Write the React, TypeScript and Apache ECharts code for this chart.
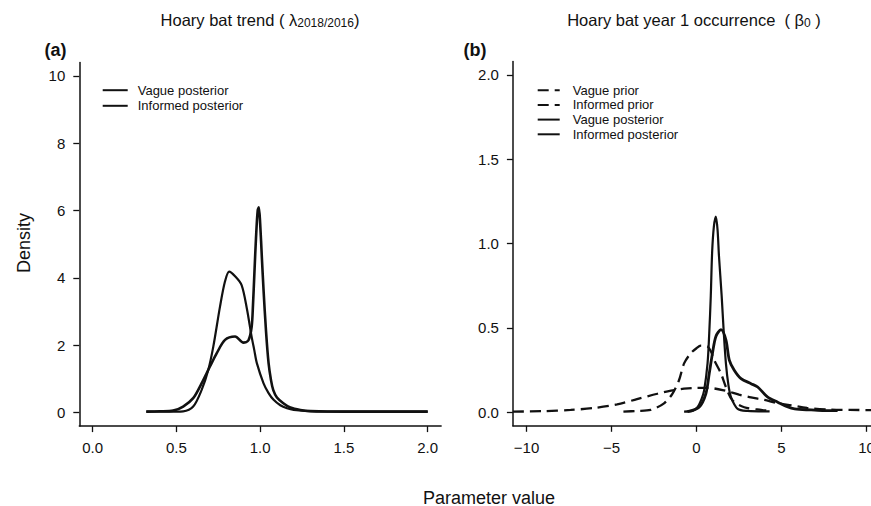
import React, { useEffect, useRef } from 'react';
import * as echarts from 'echarts';

// ---------- Panel (a): Hoary bat trend ----------
const aXTicks = [0, 0.5, 1.0, 1.5, 2.0];
const aYTicks = [0, 2, 4, 6, 8, 10];

const aVagueX = [0.32, 0.45, 0.54, 0.6, 0.65, 0.69, 0.72, 0.76, 0.79, 0.815, 0.85, 0.889, 0.92, 0.949, 0.965, 0.98, 1.02, 1.05, 1.08, 1.12, 1.16, 1.2, 1.3, 1.5, 2.0];
const aVagueY = [0.03, 0.03, 0.04, 0.18, 0.67, 1.27, 1.96, 3.15, 3.9, 4.19, 4.05, 3.79, 3.1, 2.25, 1.85, 1.47, 0.87, 0.58, 0.38, 0.22, 0.13, 0.08, 0.04, 0.03, 0.03];

const aInformedX = [0.32, 0.4, 0.48, 0.54, 0.6, 0.65, 0.7, 0.74, 0.79, 0.85, 0.9, 0.93, 0.949, 0.957, 0.965, 0.975, 0.985, 0.992, 1.0, 1.01, 1.02, 1.035, 1.05, 1.065, 1.078, 1.1, 1.138, 1.18, 1.24, 1.3, 1.5, 2.0];
const aInformedY = [0.03, 0.04, 0.06, 0.18, 0.43, 0.87, 1.37, 1.76, 2.16, 2.26, 2.08, 2.15, 2.55, 3.2, 4.1, 5.2, 6.0, 6.1, 5.6, 4.6, 3.64, 2.4, 1.47, 0.95, 0.67, 0.45, 0.28, 0.15, 0.08, 0.05, 0.03, 0.03];

// ---------- Panel (b): Hoary bat year 1 occurrence ----------
const bXTicks = [-10, -5, 0, 5, 10];
const bYTicks = [0, 0.5, 1.0, 1.5, 2.0];

const bVaguePriorX = [-10.8, -9, -7.4, -6, -4.67, -3.5, -2.3, -1.5, -0.73, 0.0, 0.65, 1.63, 2.5, 3.2, 4.0, 4.7, 5.47, 6.5, 7.9, 9, 10.8];
const bVaguePriorY = [0.004, 0.007, 0.014, 0.026, 0.047, 0.078, 0.11, 0.128, 0.14, 0.145, 0.145, 0.13, 0.105, 0.088, 0.073, 0.056, 0.043, 0.026, 0.016, 0.014, 0.013];

const bInformedPriorX = [-4.3, -3.5, -2.7, -1.91, -1.42, -1.03, -0.73, -0.34, 0.0, 0.25, 0.65, 0.85, 1.04, 1.44, 1.73, 2.12, 2.81, 3.8, 4.3];
const bInformedPriorY = [0.004, 0.008, 0.014, 0.053, 0.11, 0.19, 0.29, 0.35, 0.38, 0.395, 0.39, 0.36, 0.31, 0.23, 0.15, 0.07, 0.03, 0.014, 0.01];

const bVaguePostX = [-0.53, 0.15, 0.55, 0.75, 0.94, 1.14, 1.44, 1.73, 1.93, 2.22, 2.62, 3.21, 3.6, 4.19, 4.78, 5.3, 5.77, 6.75, 7.5, 8.3];
const bVaguePostY = [0.004, 0.03, 0.11, 0.23, 0.35, 0.45, 0.49, 0.43, 0.31, 0.25, 0.2, 0.17, 0.15, 0.09, 0.06, 0.035, 0.02, 0.014, 0.01, 0.01];

const bInformedPostX = [-0.73, -0.2, 0.06, 0.3, 0.45, 0.65, 0.75, 0.84, 0.92, 1.02, 1.14, 1.24, 1.32, 1.48, 1.6, 1.73, 1.88, 2.03, 2.42, 3.0, 4.3];
const bInformedPostY = [0.004, 0.01, 0.03, 0.08, 0.13, 0.29, 0.47, 0.69, 0.95, 1.1, 1.16, 1.08, 0.93, 0.69, 0.48, 0.29, 0.16, 0.09, 0.02, 0.008, 0.005];

const INK = '#111';
const FONT = '"Liberation Sans", Arial, Helvetica, sans-serif';

const zip = (xs: number[], ys: number[]) => xs.map((x, i) => [x, ys[i]]);
const minus = (v: number) => (v < 0 ? '\u2212' + Math.abs(v) : String(v));

function axisBase(extra: any) {
  return {
    type: 'value',
    axisLine: { show: true, onZero: false, lineStyle: { color: INK, width: 1.5 } },
    splitLine: { show: false },
    ...extra,
  };
}

function lineSeries(name: string, xs: number[], ys: number[], idx: number, width: number, dashed: boolean) {
  return {
    type: 'line',
    name,
    xAxisIndex: idx,
    yAxisIndex: idx,
    data: zip(xs, ys),
    symbol: 'none',
    showSymbol: false,
    smooth: 0.3,
    lineStyle: { color: INK, width, type: dashed ? [11, 6] : 'solid' },
    itemStyle: { color: INK },
    z: 3,
  };
}

export default function App() {
  const ref = useRef<HTMLDivElement>(null);
  useEffect(() => {
    if (!ref.current) return;
    const chart = echarts.init(ref.current, null, { renderer: 'svg' });
    const tickLabel = { color: INK, fontSize: 15, fontFamily: FONT };
    const legendText = { color: INK, fontSize: 13, fontFamily: FONT };
    const option: any = {
      animation: false,
      backgroundColor: '#fff',
      textStyle: { fontFamily: FONT },
      grid: [
        { left: 79.3, top: 62.5, width: 361.8, height: 363.6 },
        { left: 512.9, top: 61.5, width: 367.2, height: 364.3 },
      ],
      xAxis: [
        axisBase({
          gridIndex: 0, min: -0.08, max: 2.08,
          axisTick: { show: true, length: 6, customValues: aXTicks, lineStyle: { color: INK, width: 1.3 } },
          axisLabel: { ...tickLabel, customValues: aXTicks, margin: 14, formatter: (v: number) => v.toFixed(1) },
        }),
        axisBase({
          gridIndex: 1, min: -10.8, max: 10.8,
          axisTick: { show: true, length: 6, customValues: bXTicks, lineStyle: { color: INK, width: 1.3 } },
          axisLabel: { ...tickLabel, customValues: bXTicks, margin: 14, formatter: (v: number) => minus(v) },
        }),
      ],
      yAxis: [
        axisBase({
          gridIndex: 0, min: -0.4, max: 10.4,
          axisTick: { show: true, length: 6, customValues: aYTicks, lineStyle: { color: INK, width: 1.3 } },
          axisLabel: { ...tickLabel, customValues: aYTicks, margin: 14, formatter: (v: number) => String(v) },
        }),
        axisBase({
          gridIndex: 1, min: -0.08, max: 2.08,
          axisTick: { show: true, length: 6, customValues: bYTicks, lineStyle: { color: INK, width: 1.3 } },
          axisLabel: { ...tickLabel, customValues: bYTicks, margin: 14, formatter: (v: number) => v.toFixed(1) },
        }),
      ],
      legend: [
        {
          orient: 'vertical', left: 101.7, top: 83.7, padding: 0,
          itemWidth: 25, itemHeight: 14, itemGap: 2.6,
          data: ['a|Vague posterior', 'a|Informed posterior'],
          formatter: (n: string) => n.slice(2),
          itemStyle: { opacity: 0, borderWidth: 0 },
          textStyle: { ...legendText, padding: [0, 0, 0, 5] },
          selectedMode: false,
        },
        {
          orient: 'vertical', left: 536.7, top: 83.7, padding: 0,
          itemWidth: 22, itemHeight: 14, itemGap: 1.7,
          data: ['b|Vague prior', 'b|Informed prior', 'b|Vague posterior', 'b|Informed posterior'],
          formatter: (n: string) => n.slice(2),
          itemStyle: { opacity: 0, borderWidth: 0 },
          textStyle: { ...legendText, padding: [0, 0, 0, 8] },
          selectedMode: false,
        },
      ],
      series: [
        lineSeries('a|Vague posterior', aVagueX, aVagueY, 0, 2.2, false),
        lineSeries('a|Informed posterior', aInformedX, aInformedY, 0, 2.6, false),
        lineSeries('b|Vague prior', bVaguePriorX, bVaguePriorY, 1, 2.3, true),
        lineSeries('b|Informed prior', bInformedPriorX, bInformedPriorY, 1, 2.3, true),
        lineSeries('b|Vague posterior', bVaguePostX, bVaguePostY, 1, 2.8, false),
        lineSeries('b|Informed posterior', bInformedPostX, bInformedPostY, 1, 2.2, false),
      ],
      graphic: [
        {
          type: 'text', x: 260, y: 20,
          style: {
            text: 'Hoary bat trend ( \u03bb{sub|2018/2016})',
            fill: INK, font: `16.5px ${FONT}`, align: 'center', verticalAlign: 'middle',
            rich: { sub: { fontSize: 12, fontFamily: FONT, fill: INK, padding: [6, 0, 0, 0] } },
          },
        },
        {
          type: 'text', x: 694, y: 20,
          style: {
            text: 'Hoary bat year 1 occurrence  ( \u03b2{sub|0} )',
            fill: INK, font: `16.5px ${FONT}`, align: 'center', verticalAlign: 'middle',
            rich: { sub: { fontSize: 12, fontFamily: FONT, fill: INK, padding: [6, 0, 0, 0] } },
          },
        },
        {
          type: 'text', x: 55.5, y: 50,
          style: { text: '(a)', fill: INK, font: `bold 18px ${FONT}`, align: 'center', verticalAlign: 'middle' },
        },
        {
          type: 'text', x: 475, y: 50,
          style: { text: '(b)', fill: INK, font: `bold 18px ${FONT}`, align: 'center', verticalAlign: 'middle' },
        },
        {
          type: 'text', x: 23.5, y: 243, rotation: Math.PI / 2,
          style: { text: 'Density', fill: INK, font: `18px ${FONT}`, align: 'center', verticalAlign: 'middle' },
        },
        {
          type: 'text', x: 489, y: 497.5,
          style: { text: 'Parameter value', fill: INK, font: `18px ${FONT}`, align: 'center', verticalAlign: 'middle' },
        },
      ],
    };
    chart.setOption(option);
    return () => chart.dispose();
  }, []);
  return (
    <div style={{ position: 'absolute', left: 0, top: 0, width: 871, height: 506, overflow: 'hidden', background: '#fff' }}>
      <div ref={ref} style={{ width: 886, height: 506 }} />
    </div>
  );
}
